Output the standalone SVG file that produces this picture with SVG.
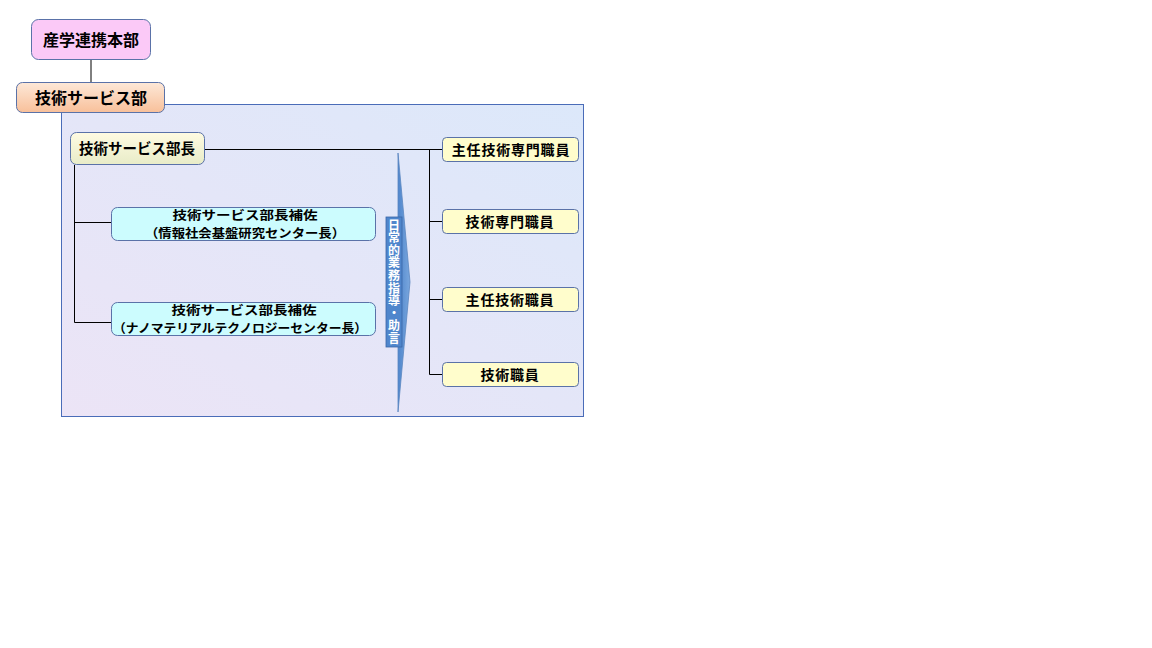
<svg xmlns="http://www.w3.org/2000/svg" width="1152" height="648" viewBox="0 0 1152 648">
<defs>
<linearGradient id="panelG" x1="1" y1="0" x2="0" y2="1">
<stop offset="0" stop-color="#dce8fa"/>
<stop offset="1" stop-color="#ece4f6"/>
</linearGradient>
<linearGradient id="peachG" x1="0" y1="0" x2="0" y2="1">
<stop offset="0" stop-color="#fde8d8"/>
<stop offset="1" stop-color="#f8c09a"/>
</linearGradient>
<linearGradient id="headG" x1="0" y1="0" x2="0" y2="1">
<stop offset="0" stop-color="#fffbe2"/>
<stop offset="1" stop-color="#e8ecc8"/>
</linearGradient>
<linearGradient id="arrowG" x1="0" y1="0" x2="1" y2="0">
<stop offset="0" stop-color="#4f86cc"/>
<stop offset="1" stop-color="#7aa7de"/>
</linearGradient>
</defs>
<style>
.box{stroke:#5a72a8;stroke-width:1}
.t{font-family:"Noto Sans CJK JP","Noto Sans CJK SC",sans-serif;fill:#000;text-anchor:middle}
.b{font-weight:bold}
.ln{stroke:#000;stroke-width:1;fill:none}
.v{font-family:"Noto Sans CJK JP",sans-serif;font-weight:bold;font-size:12px;fill:#fff;writing-mode:vertical-rl}
</style>
<rect width="1152" height="648" fill="#fff"/>
<rect id="panel" x="61.5" y="104.5" width="522" height="312" fill="url(#panelG)" stroke="#4a6cb8" stroke-width="1"/>
<g id="connectors">
<line class="ln" x1="91" y1="60" x2="91" y2="82" stroke-width="2"/>
<line class="ln" x1="205" y1="149.5" x2="442" y2="149.5"/>
<polyline class="ln" points="74.5,165 74.5,322.5 111,322.5"/>
<line class="ln" x1="74.5" y1="222.5" x2="111" y2="222.5"/>
<line class="ln" x1="429.5" y1="149.5" x2="429.5" y2="374.5"/>
<line class="ln" x1="429.5" y1="221.5" x2="442" y2="221.5"/>
<line class="ln" x1="429.5" y1="299.5" x2="442" y2="299.5"/>
<line class="ln" x1="429.5" y1="374.5" x2="442" y2="374.5"/>
</g>
<g id="n-sangaku">
<rect class="box" x="31.5" y="19.5" width="119" height="40" rx="7" fill="#fbc9f7"/>
<text class="t b" x="91" y="46" font-size="16">産学連携本部</text>
</g>
<g id="n-gijutsu">
<rect class="box" x="16.5" y="82.5" width="148" height="30" rx="6" fill="url(#peachG)"/>
<text class="t b" x="91" y="104" font-size="16">技術サービス部</text>
</g>
<g id="n-bucho">
<rect class="box" x="70.5" y="132.5" width="134" height="32" rx="6" fill="url(#headG)"/>
<text class="t b" x="137" y="154" font-size="14.5">技術サービス部長</text>
</g>
<g id="n-hosa1">
<rect class="box" x="111.5" y="207.5" width="264" height="33" rx="6" fill="#ccfcfe"/>
<text class="t b" x="245" y="220" font-size="12.4" textLength="145" lengthAdjust="spacingAndGlyphs">技術サービス部長補佐</text>
<text class="t b" x="245" y="238" font-size="12.4" textLength="200" lengthAdjust="spacingAndGlyphs">（情報社会基盤研究センター長）</text>
</g>
<g id="n-hosa2">
<rect class="box" x="111.5" y="302.5" width="264" height="33" rx="6" fill="#ccfcfe"/>
<text class="t b" x="244" y="315" font-size="12.4" textLength="145" lengthAdjust="spacingAndGlyphs">技術サービス部長補佐</text>
<text class="t b" x="240" y="333" font-size="12.4" textLength="254" lengthAdjust="spacingAndGlyphs">（ナノマテリアルテクノロジーセンター長）</text>
</g>
<g id="arrow">
<polygon points="398,153 410,282 398,412" fill="url(#arrowG)" stroke="#5b86c0" stroke-width="0.8"/>
<rect x="386" y="217" width="16" height="130" fill="#4f86cc" stroke="#3b66a8" stroke-width="0.8"/>
<text class="v" x="394" y="219">日</text>
<text class="v" x="394" y="231.6">常</text>
<text class="v" x="394" y="244.2">的</text>
<text class="v" x="394" y="256.8">業</text>
<text class="v" x="394" y="269.4">務</text>
<text class="v" x="394" y="282">指</text>
<text class="v" x="394" y="294.6">導</text>
<text class="v" x="394" y="307.2">・</text>
<text class="v" x="394" y="319.8">助</text>
<text class="v" x="394" y="332.4">言</text>
</g>
<g id="n-shunin-senmon">
<rect class="box" x="442.5" y="137.5" width="136" height="24" rx="4" fill="#fffdcc"/>
<text class="t b" x="511" y="155" font-size="14" letter-spacing="0.8">主任技術専門職員</text>
</g>
<g id="n-senmon">
<rect class="box" x="442.5" y="209.5" width="136" height="24" rx="4" fill="#fffdcc"/>
<text class="t b" x="510" y="227" font-size="14" letter-spacing="0.8">技術専門職員</text>
</g>
<g id="n-shunin">
<rect class="box" x="442.5" y="287.5" width="136" height="24" rx="4" fill="#fffdcc"/>
<text class="t b" x="510" y="305" font-size="14" letter-spacing="0.8">主任技術職員</text>
</g>
<g id="n-shokuin">
<rect class="box" x="442.5" y="362.5" width="136" height="24" rx="4" fill="#fffdcc"/>
<text class="t b" x="510" y="380" font-size="14" letter-spacing="0.8">技術職員</text>
</g>
</svg>
